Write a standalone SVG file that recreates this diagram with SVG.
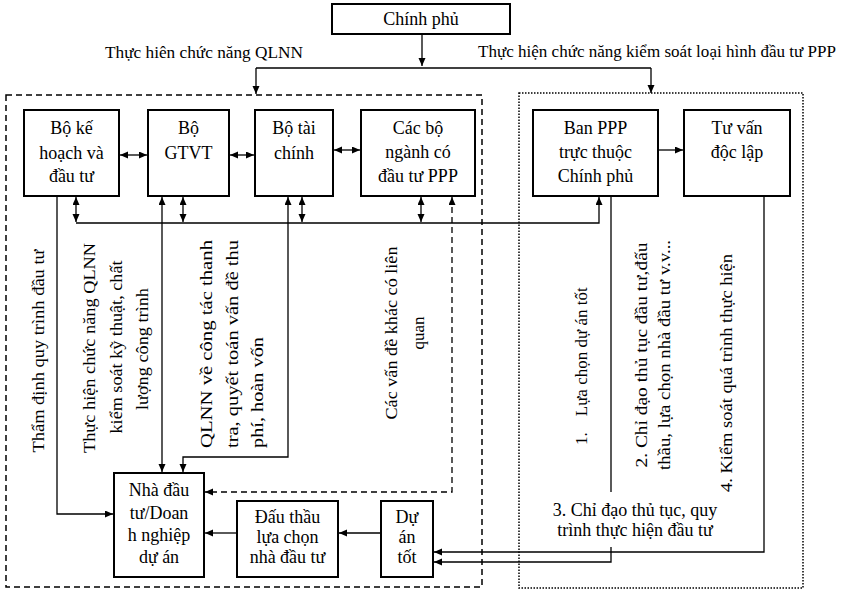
<svg xmlns="http://www.w3.org/2000/svg" width="845" height="592" viewBox="0 0 845 592">
<defs>
<marker id="ah" markerUnits="userSpaceOnUse" markerWidth="9" markerHeight="8" refX="8" refY="3.5" orient="auto-start-reverse">
<path d="M0,0 L8,3.5 L0,7 z" fill="#000"/>
</marker>
<style>
.box{fill:#fff;stroke:#000;stroke-width:2}
.t{font-family:"Liberation Serif","Times New Roman",serif;font-size:18px;fill:#000;text-anchor:middle}
.h{font-family:"Liberation Serif","Times New Roman",serif;font-size:17px;fill:#000}
.r{font-family:"Liberation Serif","Times New Roman",serif;font-size:17px;fill:#000}
.c{fill:none;stroke:#000;stroke-width:1.3}
.ce{fill:none;stroke:#000;stroke-width:1.3;marker-end:url(#ah)}
.cb{fill:none;stroke:#000;stroke-width:1.3;marker-start:url(#ah);marker-end:url(#ah)}
.dash{fill:none;stroke:#000;stroke-width:1.5;stroke-dasharray:6 4}
.dot{fill:none;stroke:#000;stroke-width:1.5;stroke-dasharray:1.5 1.5}
</style>
</defs>
<rect width="845" height="592" fill="#fff"/>

<g id="groups">
<rect class="dash" x="6" y="95" width="476" height="492"/>
<rect class="dot" x="519" y="93" width="284" height="495"/>
</g>

<g id="connectors">
<path class="ce" d="M422,34 V66"/>
<path class="c" d="M256,68 H651"/>
<path class="ce" d="M256,68 V94"/>
<path class="ce" d="M651,68 V93"/>
<path class="cb" d="M120,155 H147"/>
<path class="cb" d="M230,155 H254"/>
<path class="cb" d="M334,150 H360"/>
<path class="ce" d="M658,150 H683"/>
<path class="ce" d="M76,223 H599 V197"/>
<path class="cb" d="M76,197 V222"/>
<path class="cb" d="M183,197 V222"/>
<path class="cb" d="M302,197 V222"/>
<path class="cb" d="M421,197 V222"/>
<path class="ce" d="M57,196 V514 H113"/>
<path class="cb" d="M162,197 V472"/>
<path class="cb" d="M288,197 V457 H183 V472"/>
<path class="cb" d="M452,197 V492 H205" stroke-dasharray="6 4"/>
<path class="ce" d="M237,533 H205"/>
<path class="ce" d="M381,533 H339"/>
<path class="ce" d="M764,196 V552 H434"/>
<path class="c" d="M611,196 V492"/>
<path class="ce" d="M611,547 V562 H434"/>
</g>

<g id="labels">
<text class="h" x="105" y="58" textLength="198" lengthAdjust="spacingAndGlyphs">Thực hiên chức năng QLNN</text>
<text class="h" x="478" y="57" textLength="358" lengthAdjust="spacingAndGlyphs">Thực hiện chức năng kiểm soát loại hình đầu tư PPP</text>
<text class="r" transform="translate(44,351) rotate(-90)" text-anchor="middle" textLength="203" lengthAdjust="spacingAndGlyphs">Thẩm định quy trình đầu tư</text>
<text class="r" transform="translate(95,348) rotate(-90)" text-anchor="middle" textLength="210" lengthAdjust="spacingAndGlyphs">Thực hiện chức năng QLNN</text>
<text class="r" transform="translate(122,347) rotate(-90)" text-anchor="middle" textLength="173" lengthAdjust="spacingAndGlyphs">kiểm soát kỹ thuật, chất</text>
<text class="r" transform="translate(148,349) rotate(-90)" text-anchor="middle" textLength="122" lengthAdjust="spacingAndGlyphs">lượng công trình</text>
<text class="r" transform="translate(212,448) rotate(-90)" textLength="208" lengthAdjust="spacingAndGlyphs">QLNN về công tác thanh</text>
<text class="r" transform="translate(238,448) rotate(-90)" textLength="208" lengthAdjust="spacingAndGlyphs">tra, quyết toán vấn đề thu</text>
<text class="r" transform="translate(263,448) rotate(-90)" textLength="111" lengthAdjust="spacingAndGlyphs">phí, hoàn vốn</text>
<text class="r" transform="translate(397,333) rotate(-90)" text-anchor="middle" textLength="173" lengthAdjust="spacingAndGlyphs">Các vấn đề khác có liên</text>
<text class="r" transform="translate(424,333) rotate(-90)" text-anchor="middle">quan</text>
<text class="r" transform="translate(587,445) rotate(-90)">1.<tspan dx="16">Lựa chọn dự án tốt</tspan></text>
<text class="r" transform="translate(647,355) rotate(-90)" text-anchor="middle" textLength="225" lengthAdjust="spacingAndGlyphs">2. Chỉ đạo thủ tục đầu tư,đấu</text>
<text class="r" transform="translate(670,355) rotate(-90)" text-anchor="middle" textLength="230" lengthAdjust="spacingAndGlyphs">thầu, lựa chọn nhà đầu tư v.v...</text>
<text class="r" transform="translate(732,373) rotate(-90)" text-anchor="middle" textLength="238" lengthAdjust="spacingAndGlyphs">4. Kiểm soát quá trình thực hiện</text>
<text class="t" x="635" y="516">3. Chỉ đạo thủ tục, quy</text>
<text class="t" x="635" y="536">trình thực hiện đầu tư</text>
</g>

<g id="chinh-phu">
<rect class="box" x="332" y="4" width="178" height="30"/>
<text class="t" x="421" y="25">Chính phủ</text>
</g>
<g id="bo-ke-hoach">
<rect class="box" x="24" y="110" width="95" height="86"/>
<text class="t" x="71.5" y="134">Bộ kế</text>
<text class="t" x="71.5" y="159">hoạch và</text>
<text class="t" x="71.5" y="182">đầu tư</text>
</g>
<g id="bo-gtvt">
<rect class="box" x="148" y="110" width="81" height="86"/>
<text class="t" x="188.5" y="134">Bộ</text>
<text class="t" x="188.5" y="159">GTVT</text>
</g>
<g id="bo-tai-chinh">
<rect class="box" x="255" y="110" width="78" height="86"/>
<text class="t" x="294" y="134">Bộ tài</text>
<text class="t" x="294" y="159">chính</text>
</g>
<g id="cac-bo-nganh">
<rect class="box" x="361" y="110" width="114" height="86"/>
<text class="t" x="418" y="134">Các bộ</text>
<text class="t" x="418" y="158">ngành có</text>
<text class="t" x="418" y="182">đầu tư PPP</text>
</g>
<g id="ban-ppp">
<rect class="box" x="533" y="110" width="125" height="86"/>
<text class="t" x="595.5" y="134">Ban PPP</text>
<text class="t" x="595.5" y="158">trực thuộc</text>
<text class="t" x="595.5" y="182">Chính phủ</text>
</g>
<g id="tu-van">
<rect class="box" x="684" y="110" width="106" height="86"/>
<text class="t" x="737" y="134">Tư vấn</text>
<text class="t" x="737" y="158">độc lập</text>
</g>
<g id="nha-dau-tu">
<rect class="box" x="114" y="473" width="90" height="104"/>
<text class="t" x="159" y="496">Nhà đầu</text>
<text class="t" x="159" y="519">tư/Doan</text>
<text class="t" x="159" y="541">h nghiệp</text>
<text class="t" x="159" y="563">dự án</text>
</g>
<g id="dau-thau">
<rect class="box" x="237" y="501" width="101" height="76"/>
<text class="t" x="287.5" y="523">Đấu thầu</text>
<text class="t" x="287.5" y="543">lựa chọn</text>
<text class="t" x="287.5" y="563">nhà đầu tư</text>
</g>
<g id="du-an-tot">
<rect class="box" x="381" y="501" width="52" height="76"/>
<text class="t" x="407" y="523">Dự</text>
<text class="t" x="407" y="543">án</text>
<text class="t" x="407" y="563">tốt</text>
</g>
</svg>
